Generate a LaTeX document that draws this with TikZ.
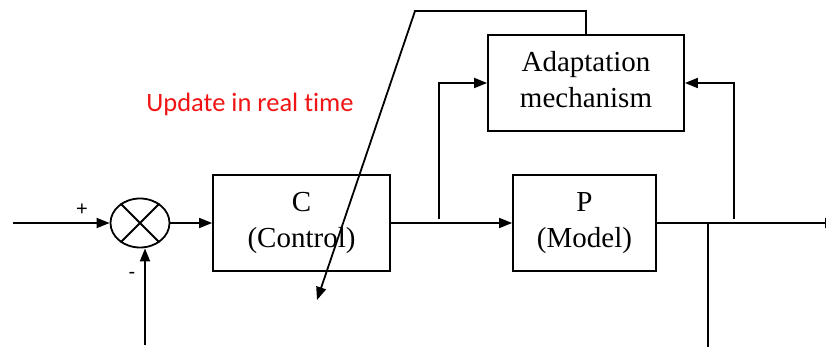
\documentclass[tikz,border=0pt]{standalone}
\usepackage{fontspec}
\setmainfont{Liberation Serif}
\newfontfamily\calibrifont[Ligatures={NoCommon}]{Carlito}
\newfontfamily\arialfont{Liberation Sans}
\usetikzlibrary{shapes.geometric,arrows.meta}
\definecolor{upred}{RGB}{240,20,20}
\begin{document}
\begin{tikzpicture}[x=1pt,y=-1pt, line width=1.8pt,
  >={Triangle[length=13pt,width=10pt]},
  blk/.style={draw, font=\fontsize{29}{36}\selectfont, align=center, inner sep=0pt},
  sign/.style={font=\arialfont\fontsize{20}{22}\selectfont, inner sep=0pt}]
\useasboundingbox (0,0) rectangle (826,347);
\node[blk, minimum width=177pt, minimum height=96pt] (C) at (301.5,223) {C\\(Control)};
\node[blk, minimum width=143pt, minimum height=96pt] (P) at (584.5,223) {P\\(Model)};
\node[blk, minimum width=196pt, minimum height=96pt] (A) at (586,83) {};
\node[font=\fontsize{29}{36}\selectfont, align=center, inner sep=0pt] (Atext) at (586,80) {Adaptation\\mechanism};
\node[draw, ellipse, minimum width=59pt, minimum height=49pt, inner sep=0pt] (sum) at (140,223) {};
\draw (sum.45) -- (sum.225) (sum.135) -- (sum.315);
\node[sign] (plus) at (82,210) {+};
\node[sign] (minus) at (132,275) {-};
\node[font=\calibrifont\fontsize{26.5}{30}\selectfont, text=upred, inner sep=0pt] (upd) at (250,104) {Update in real time};
\coordinate (in) at (13,223);
\coordinate (fb) at (145,345);
\coordinate (out) at (838,223);
\coordinate (b1) at (439,219);
\coordinate (b2) at (734,219);
\coordinate (b3) at (708,223);
\coordinate (b3e) at (708,347);
\coordinate (k) at (415,11);
\coordinate (tip) at (317,300);
\draw[->] (in) -- (sum.west);
\draw[->] (fb) -- (fb |- sum.south);
\draw[->] (sum.east) -- (C.west);
\draw[->] (C.east) -- (P.west);
\draw[->] (P.east) -- (out);
\draw[->] (b1) |- (A.west);
\draw[->] (b2) |- (A.east);
\draw (b3) -- (b3e);
\draw[->] (A.north) |- (k) -- (tip);
\end{tikzpicture}
\end{document}
